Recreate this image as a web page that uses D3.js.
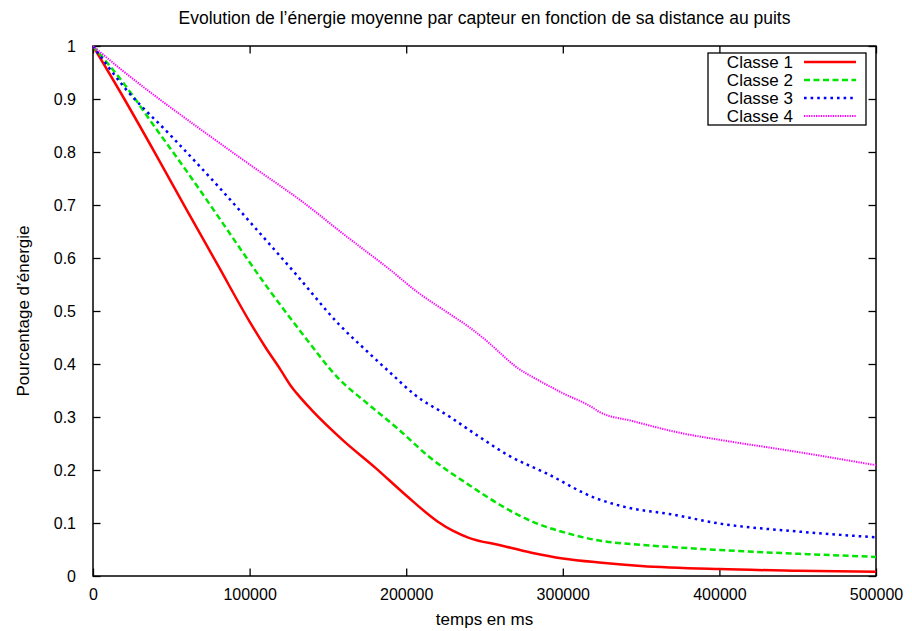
<!DOCTYPE html>
<html><head><meta charset="utf-8">
<script src="https://cdn.jsdelivr.net/npm/d3@7"></script>
<style>body{margin:0;background:#fff;} svg{display:block;font-family:"Liberation Sans",Arial,sans-serif;}</style>
</head><body>
<svg id="c" width="912" height="631"></svg>
<script>
const title = "Evolution de l’énergie moyenne par capteur en fonction de sa distance au puits";
const xLabel = "temps en ms";
const yLabel = "Pourcentage d’énergie";
const seriesNames = ["Classe 1","Classe 2","Classe 3","Classe 4"];
const xTicks = [0,100000,200000,300000,400000,500000];
const yTicks = [0,0.1,0.2,0.3,0.4,0.5,0.6,0.7,0.8,0.9,1];

const classe1 = [[0,1],[20000,0.9],[40000,0.796],[60000,0.69],[80000,0.585],[100000,0.48],[110000,0.432],[120000,0.388],[126000,0.36],[130000,0.345],[140000,0.312],[160000,0.255],[180000,0.205],[200000,0.152],[220000,0.103],[230000,0.085],[240000,0.072],[260000,0.058],[280000,0.044],[300000,0.033],[325000,0.025],[350000,0.019],[400000,0.013],[450000,0.01],[500000,0.008]];
const classe2 = [[0,1],[20000,0.928],[40000,0.845],[60000,0.763],[80000,0.678],[100000,0.592],[110000,0.55],[120000,0.51],[135000,0.452],[157000,0.372],[175000,0.326],[195000,0.277],[215000,0.224],[240000,0.172],[260000,0.134],[275000,0.11],[290000,0.092],[300000,0.083],[325000,0.066],[350000,0.059],[400000,0.049],[450000,0.042],[500000,0.036]];
const classe3 = [[0,1],[20000,0.922],[50000,0.83],[80000,0.735],[105000,0.652],[130000,0.568],[157000,0.475],[175000,0.424],[190000,0.383],[205000,0.343],[228000,0.3],[247000,0.262],[265000,0.228],[290000,0.193],[320000,0.148],[340000,0.13],[370000,0.116],[400000,0.099],[450000,0.084],[500000,0.073]];
const classe4 = [[0,1],[17000,0.958],[40000,0.905],[70000,0.84],[105000,0.766],[132000,0.71],[160000,0.645],[190000,0.577],[207000,0.536],[230000,0.49],[240000,0.47],[250000,0.447],[258000,0.426],[270000,0.395],[284000,0.37],[300000,0.345],[320000,0.316],[323000,0.31],[345000,0.292],[375000,0.27],[400000,0.257],[450000,0.234],[500000,0.209]];

const seriesData = [classe1, classe2, classe3, classe4];
const colors = ["#ff0000","#00e600","#0000ff","#ff00ff"];
const dashes = [null,"6,3.5","2.6,4","1.3,1.1"];
const widths = [2.5,2.5,2.5,2];

const svg = d3.select("#c");
const L=93, T=46, R=876, B=576;
const x = d3.scaleLinear().domain([0,500000]).range([L,R]);
const y = d3.scaleLinear().domain([0,1]).range([B,T]);
const fs = 16;

const tk = 7.5;
const gx = svg.append("g").attr("transform",`translate(0,${B})`)
  .call(d3.axisBottom(x).tickValues(xTicks).tickSize(-tk).tickFormat(d=>d3.format("d")(d)).tickPadding(13));
const gy = svg.append("g").attr("transform",`translate(${L},0)`)
  .call(d3.axisLeft(y).tickValues(yTicks).tickSize(-tk).tickFormat(d=>d3.format("")(+d.toFixed(1))).tickPadding(17));
const gx2 = svg.append("g").attr("transform",`translate(0,${T})`).call(d3.axisTop(x).tickValues(xTicks).tickSize(-tk).tickFormat(""));
const gy2 = svg.append("g").attr("transform",`translate(${R},0)`).call(d3.axisRight(y).tickValues(yTicks).tickSize(-tk).tickFormat(""));
[gx,gy,gx2,gy2].forEach(g=>{
  g.select(".domain").remove();
  g.selectAll("line").attr("stroke","#000").attr("stroke-width",1.3);
  g.selectAll("text").attr("font-size",fs).attr("font-family","Liberation Sans, Arial, sans-serif").attr("fill","#000");
});
gx.selectAll("text").attr("dy","0.71em");

svg.append("rect").attr("x",L).attr("y",T).attr("width",R-L).attr("height",B-T)
  .attr("fill","none").attr("stroke","#000").attr("stroke-width",1.5);

const line = d3.line().x(d=>x(d[0])).y(d=>y(d[1])).curve(d3.curveMonotoneX);
svg.append("clipPath").attr("id","cp").append("rect").attr("x",L).attr("y",T-2).attr("width",R-L).attr("height",B-T+2);
seriesData.forEach((s,i)=>{
  svg.append("path").datum(s).attr("d",line).attr("fill","none")
    .attr("stroke",colors[i]).attr("stroke-width",widths[i])
    .attr("stroke-dasharray",dashes[i]).attr("stroke-linejoin","round")
    .attr("clip-path","url(#cp)");
});

const lg = svg.append("g");
lg.append("rect").attr("x",708).attr("y",53).attr("width",158).attr("height",72)
  .attr("fill","#fff").attr("stroke","#000").attr("stroke-width",1.3);
seriesNames.forEach((n,i)=>{
  const yy = 62 + i*18;
  lg.append("text").attr("x",793).attr("y",yy).attr("dy","0.35em").attr("text-anchor","end")
    .attr("font-size",fs+1).text(n);
  lg.append("line").attr("x1",804).attr("x2",856).attr("y1",yy).attr("y2",yy)
    .attr("stroke",colors[i]).attr("stroke-width",widths[i]).attr("stroke-dasharray",dashes[i]);
});

svg.append("text").attr("x",(L+R)/2).attr("y",24).attr("text-anchor","middle").attr("font-size",17.5).text(title);
svg.append("text").attr("x",(L+R)/2).attr("y",625).attr("text-anchor","middle").attr("font-size",fs+1).text(xLabel);
svg.append("text").attr("transform",`translate(29,311) rotate(-90)`).attr("text-anchor","middle").attr("font-size",fs+1).text(yLabel);
</script>
</body></html>
